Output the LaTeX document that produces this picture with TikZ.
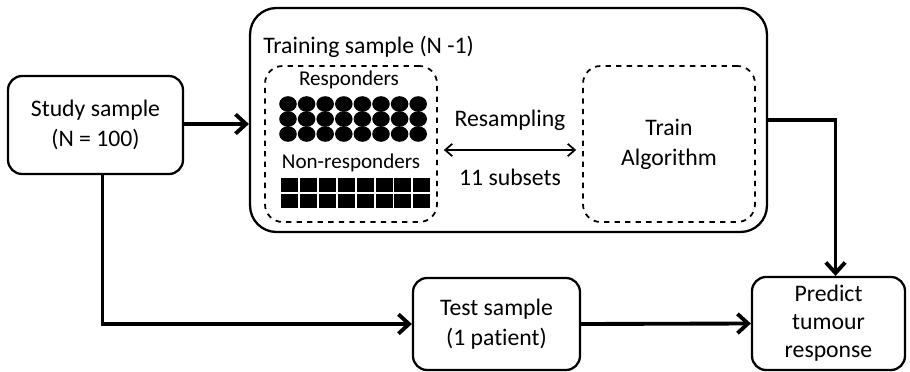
\documentclass[tikz,border=0pt]{standalone}
\usepackage{fontspec}
\setmainfont[Ligatures=NoCommon]{Carlito}
\usetikzlibrary{arrows.meta}
\tikzset{
    every node/.style={align=center, inner sep=0pt,
    	font=\fontsize{13.5}{17}\selectfont}
}
\tikzset{
    box/.style={draw, line width=1.3pt, rounded corners=8pt},
    dashbox/.style={draw, dashed, line width=1pt, rounded corners=10pt},
    small/.style={font=\fontsize{12}{14}\selectfont}
}
\tikzset{
    flow/.style={line width=2.2pt, -{Straight Barb[length=6pt, width=11pt, line width=2.2pt]}},
    swap/.style={line width=1pt, {Straight Barb[length=4pt, width=7pt]}-{Straight Barb[length=4pt, width=7pt]}}
}

\begin{document}
\begin{tikzpicture}[x=0.02cm, y=-0.02cm]
	\useasboundingbox (0,0) rectangle (910,372);
	\node (study) [box, minimum width=3.5cm, minimum height=1.96cm] at ( 95.5, 125) {Study sample\\(N = 100)};
	\node (training) [box, rounded corners=15pt, minimum width=10.34cm, minimum height=4.48cm] at (508.5, 120) {};
	\node (traininglabel) [anchor=west] at (263, 47) {Training sample (N -1)};
	\node (pool) [dashbox, minimum width=3.44cm, minimum height=3.12cm] at (351, 144) {};
	\node (algo) [dashbox, minimum width=3.44cm, minimum height=3.12cm] at (669, 144) {Train\\Algorithm};
	\node (test) [box, minimum width=3.34cm, minimum height=1.84cm] at (496.5, 324) {Test sample\\(1 patient)};
	\node (predict) [box, minimum width=3.06cm, minimum height=1.86cm, font=\fontsize{13.5}{16}\selectfont] at (828.5, 323.5) {Predict\\tumour\\response};

	% patients in the training pool
	\node (resp) [small] at (349, 80) {Responders};
	\node (nonresp) [small] at (351, 163) {Non-responders};
	\foreach \i in {0,...,7}
		\foreach \j in {0,1,2}
			\fill (288+18.6*\i, 104+15*\j) ellipse [x radius=8.8, y radius=7.8];
	\foreach \i in {0,...,7} {
		\fill (281+18.9*\i, 177.5) rectangle ++(17, 14);
		\fill (281+18.9*\i, 193.5) rectangle ++(17, 14);
	}

	\node (resampling) at (510, 120) {Resampling};
	\node (subsets) at (510, 177) {11 subsets};
	\draw [swap, shorten <=0.12cm, shorten >=0.12cm] ([yshift=-0.12cm]pool.east) -- ([yshift=-0.12cm]algo.west);

	\draw [flow] (study.east |- 0,124) -- (training.west |- 0,124);
	\draw [flow] (training.east) -| ([xshift=0.14cm]predict.north);
	\draw [flow] ([xshift=0.14cm]study.south) |- (test.west);
	\draw [flow] (test.east) -- (predict.west);
\end{tikzpicture}
\end{document}
